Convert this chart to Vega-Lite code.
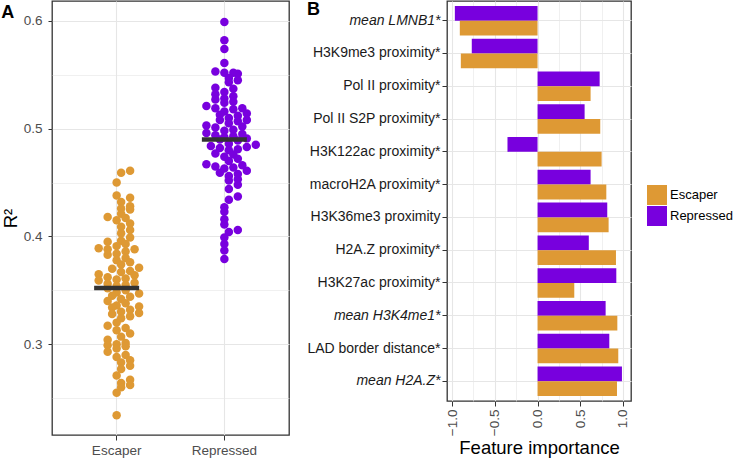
{
  "$schema": "https://vega.github.io/schema/vega-lite/v6.json",
  "padding": {"left": 0, "top": 0, "right": 0, "bottom": 0},
  "background": "white",
  "bounds": "flush",
  "spacing": 158,
  "config": {
    "font": "Liberation Sans",
    "view": {"stroke": "#333333", "strokeWidth": 1.3},
    "axis": {
      "domain": false,
      "gridColor": "#e6e6e6",
      "tickColor": "#333333",
      "tickSize": 5,
      "labelColor": "#4d4d4d",
      "labelFont": "Liberation Sans",
      "titleFont": "Liberation Sans",
      "labelFontSize": 13.5,
      "titleFontSize": 18.5,
      "titleFontWeight": "normal",
      "titleColor": "#000000",
      "labelPadding": 3
    },
    "title": {"font": "Liberation Sans", "fontSize": 18, "fontWeight": "bold", "color": "#000000"}
  },
  "datasets": {
    "swarm": [
      {"group": "Escaper", "R2": 0.461}, {"group": "Escaper", "R2": 0.459}, {"group": "Escaper", "R2": 0.450}, {"group": "Escaper", "R2": 0.438}, {"group": "Escaper", "R2": 0.436},
      {"group": "Escaper", "R2": 0.432}, {"group": "Escaper", "R2": 0.428}, {"group": "Escaper", "R2": 0.426}, {"group": "Escaper", "R2": 0.425}, {"group": "Escaper", "R2": 0.421},
      {"group": "Escaper", "R2": 0.418}, {"group": "Escaper", "R2": 0.417}, {"group": "Escaper", "R2": 0.415}, {"group": "Escaper", "R2": 0.412}, {"group": "Escaper", "R2": 0.409},
      {"group": "Escaper", "R2": 0.406}, {"group": "Escaper", "R2": 0.403}, {"group": "Escaper", "R2": 0.399}, {"group": "Escaper", "R2": 0.396}, {"group": "Escaper", "R2": 0.395},
      {"group": "Escaper", "R2": 0.393}, {"group": "Escaper", "R2": 0.391}, {"group": "Escaper", "R2": 0.389}, {"group": "Escaper", "R2": 0.388}, {"group": "Escaper", "R2": 0.388},
      {"group": "Escaper", "R2": 0.386}, {"group": "Escaper", "R2": 0.384}, {"group": "Escaper", "R2": 0.383}, {"group": "Escaper", "R2": 0.380}, {"group": "Escaper", "R2": 0.378},
      {"group": "Escaper", "R2": 0.376}, {"group": "Escaper", "R2": 0.374}, {"group": "Escaper", "R2": 0.371}, {"group": "Escaper", "R2": 0.370}, {"group": "Escaper", "R2": 0.368},
      {"group": "Escaper", "R2": 0.367}, {"group": "Escaper", "R2": 0.365}, {"group": "Escaper", "R2": 0.364}, {"group": "Escaper", "R2": 0.362}, {"group": "Escaper", "R2": 0.361},
      {"group": "Escaper", "R2": 0.360}, {"group": "Escaper", "R2": 0.359}, {"group": "Escaper", "R2": 0.357}, {"group": "Escaper", "R2": 0.356}, {"group": "Escaper", "R2": 0.355},
      {"group": "Escaper", "R2": 0.354}, {"group": "Escaper", "R2": 0.352}, {"group": "Escaper", "R2": 0.350}, {"group": "Escaper", "R2": 0.348}, {"group": "Escaper", "R2": 0.347},
      {"group": "Escaper", "R2": 0.345}, {"group": "Escaper", "R2": 0.344}, {"group": "Escaper", "R2": 0.342}, {"group": "Escaper", "R2": 0.340}, {"group": "Escaper", "R2": 0.338},
      {"group": "Escaper", "R2": 0.336}, {"group": "Escaper", "R2": 0.335}, {"group": "Escaper", "R2": 0.334}, {"group": "Escaper", "R2": 0.332}, {"group": "Escaper", "R2": 0.330},
      {"group": "Escaper", "R2": 0.329}, {"group": "Escaper", "R2": 0.328}, {"group": "Escaper", "R2": 0.326}, {"group": "Escaper", "R2": 0.324}, {"group": "Escaper", "R2": 0.320},
      {"group": "Escaper", "R2": 0.317}, {"group": "Escaper", "R2": 0.315}, {"group": "Escaper", "R2": 0.313}, {"group": "Escaper", "R2": 0.310}, {"group": "Escaper", "R2": 0.307},
      {"group": "Escaper", "R2": 0.304}, {"group": "Escaper", "R2": 0.301}, {"group": "Escaper", "R2": 0.300}, {"group": "Escaper", "R2": 0.299}, {"group": "Escaper", "R2": 0.298},
      {"group": "Escaper", "R2": 0.296}, {"group": "Escaper", "R2": 0.293}, {"group": "Escaper", "R2": 0.290}, {"group": "Escaper", "R2": 0.288}, {"group": "Escaper", "R2": 0.285},
      {"group": "Escaper", "R2": 0.283}, {"group": "Escaper", "R2": 0.280}, {"group": "Escaper", "R2": 0.277}, {"group": "Escaper", "R2": 0.271}, {"group": "Escaper", "R2": 0.267},
      {"group": "Escaper", "R2": 0.264}, {"group": "Escaper", "R2": 0.262}, {"group": "Escaper", "R2": 0.260}, {"group": "Escaper", "R2": 0.255}, {"group": "Escaper", "R2": 0.234},
      {"group": "Repressed", "R2": 0.599}, {"group": "Repressed", "R2": 0.582}, {"group": "Repressed", "R2": 0.574}, {"group": "Repressed", "R2": 0.561}, {"group": "Repressed", "R2": 0.553},
      {"group": "Repressed", "R2": 0.552}, {"group": "Repressed", "R2": 0.552}, {"group": "Repressed", "R2": 0.551}, {"group": "Repressed", "R2": 0.547}, {"group": "Repressed", "R2": 0.545},
      {"group": "Repressed", "R2": 0.543}, {"group": "Repressed", "R2": 0.538}, {"group": "Repressed", "R2": 0.537}, {"group": "Repressed", "R2": 0.534}, {"group": "Repressed", "R2": 0.532},
      {"group": "Repressed", "R2": 0.530}, {"group": "Repressed", "R2": 0.528}, {"group": "Repressed", "R2": 0.527}, {"group": "Repressed", "R2": 0.525}, {"group": "Repressed", "R2": 0.524},
      {"group": "Repressed", "R2": 0.521}, {"group": "Repressed", "R2": 0.519}, {"group": "Repressed", "R2": 0.519}, {"group": "Repressed", "R2": 0.518}, {"group": "Repressed", "R2": 0.516},
      {"group": "Repressed", "R2": 0.514}, {"group": "Repressed", "R2": 0.513}, {"group": "Repressed", "R2": 0.512}, {"group": "Repressed", "R2": 0.510}, {"group": "Repressed", "R2": 0.508},
      {"group": "Repressed", "R2": 0.508}, {"group": "Repressed", "R2": 0.507}, {"group": "Repressed", "R2": 0.505}, {"group": "Repressed", "R2": 0.503}, {"group": "Repressed", "R2": 0.502},
      {"group": "Repressed", "R2": 0.501}, {"group": "Repressed", "R2": 0.499}, {"group": "Repressed", "R2": 0.498}, {"group": "Repressed", "R2": 0.496}, {"group": "Repressed", "R2": 0.495},
      {"group": "Repressed", "R2": 0.494}, {"group": "Repressed", "R2": 0.493}, {"group": "Repressed", "R2": 0.492}, {"group": "Repressed", "R2": 0.491}, {"group": "Repressed", "R2": 0.490},
      {"group": "Repressed", "R2": 0.489}, {"group": "Repressed", "R2": 0.486}, {"group": "Repressed", "R2": 0.485}, {"group": "Repressed", "R2": 0.484}, {"group": "Repressed", "R2": 0.483},
      {"group": "Repressed", "R2": 0.482}, {"group": "Repressed", "R2": 0.481}, {"group": "Repressed", "R2": 0.480}, {"group": "Repressed", "R2": 0.477}, {"group": "Repressed", "R2": 0.476},
      {"group": "Repressed", "R2": 0.474}, {"group": "Repressed", "R2": 0.472}, {"group": "Repressed", "R2": 0.470}, {"group": "Repressed", "R2": 0.467}, {"group": "Repressed", "R2": 0.466},
      {"group": "Repressed", "R2": 0.465}, {"group": "Repressed", "R2": 0.464}, {"group": "Repressed", "R2": 0.463}, {"group": "Repressed", "R2": 0.461}, {"group": "Repressed", "R2": 0.459},
      {"group": "Repressed", "R2": 0.458}, {"group": "Repressed", "R2": 0.456}, {"group": "Repressed", "R2": 0.453}, {"group": "Repressed", "R2": 0.452}, {"group": "Repressed", "R2": 0.448},
      {"group": "Repressed", "R2": 0.444}, {"group": "Repressed", "R2": 0.437}, {"group": "Repressed", "R2": 0.434}, {"group": "Repressed", "R2": 0.427}, {"group": "Repressed", "R2": 0.423},
      {"group": "Repressed", "R2": 0.416}, {"group": "Repressed", "R2": 0.411}, {"group": "Repressed", "R2": 0.406}, {"group": "Repressed", "R2": 0.404}, {"group": "Repressed", "R2": 0.399},
      {"group": "Repressed", "R2": 0.393}, {"group": "Repressed", "R2": 0.387}, {"group": "Repressed", "R2": 0.379}
    ],
    "imp": [
      {"feature": "mean LMNB1*", "group": "Repressed", "imp": -0.968}, {"feature": "mean LMNB1*", "group": "Escaper", "imp": -0.91},
      {"feature": "H3K9me3 proximity*", "group": "Repressed", "imp": -0.77}, {"feature": "H3K9me3 proximity*", "group": "Escaper", "imp": -0.898},
      {"feature": "Pol II proximity*", "group": "Repressed", "imp": 0.727}, {"feature": "Pol II proximity*", "group": "Escaper", "imp": 0.621},
      {"feature": "Pol II S2P proximity*", "group": "Repressed", "imp": 0.551}, {"feature": "Pol II S2P proximity*", "group": "Escaper", "imp": 0.734},
      {"feature": "H3K122ac proximity*", "group": "Repressed", "imp": -0.352}, {"feature": "H3K122ac proximity*", "group": "Escaper", "imp": 0.75},
      {"feature": "macroH2A proximity*", "group": "Repressed", "imp": 0.621}, {"feature": "macroH2A proximity*", "group": "Escaper", "imp": 0.805},
      {"feature": "H3K36me3 proximity\u00a0", "group": "Repressed", "imp": 0.816}, {"feature": "H3K36me3 proximity\u00a0", "group": "Escaper", "imp": 0.832},
      {"feature": "H2A.Z proximity*", "group": "Repressed", "imp": 0.60}, {"feature": "H2A.Z proximity*", "group": "Escaper", "imp": 0.918},
      {"feature": "H3K27ac proximity*", "group": "Repressed", "imp": 0.922}, {"feature": "H3K27ac proximity*", "group": "Escaper", "imp": 0.43},
      {"feature": "mean H3K4me1*", "group": "Repressed", "imp": 0.797}, {"feature": "mean H3K4me1*", "group": "Escaper", "imp": 0.934},
      {"feature": "LAD border distance*", "group": "Repressed", "imp": 0.84}, {"feature": "LAD border distance*", "group": "Escaper", "imp": 0.945},
      {"feature": "mean H2A.Z*", "group": "Repressed", "imp": 0.988}, {"feature": "mean H2A.Z*", "group": "Escaper", "imp": 0.93}
    ]
  },
  "resolve": {"legend": {"color": "independent"}},
  "hconcat": [
    {
      "width": 237,
      "height": 434,
      "title": {"text": "A", "anchor": "start", "frame": "bounds", "offset": -21},
      "data": {"name": "swarm"},
      "transform": [
        {"bin": {"step": 0.006}, "field": "R2", "as": "b"},
        {"window": [{"op": "row_number", "as": "r"}], "groupby": ["group", "b"], "sort": [{"field": "R2", "order": "ascending"}]},
        {"joinaggregate": [{"op": "count", "as": "n"}], "groupby": ["group", "b"]},
        {"calculate": "(datum.r % 2 == 0 ? 1 : -1) * floor(datum.r / 2) + (datum.n % 2 == 0 ? 0.5 : 0)", "as": "off"}
      ],
      "layer": [
        {
          "mark": {"type": "circle", "size": 72, "opacity": 1},
          "encoding": {
            "x": {"field": "group", "type": "nominal",
                  "scale": {"domain": ["Escaper", "Repressed"], "paddingInner": 0, "paddingOuter": 0.1},
                  "axis": {"title": null, "labelAngle": 0, "grid": true, "bandPosition": 0.5, "gridWidth": 1.1, "labelPadding": 3}},
            "xOffset": {"field": "off", "type": "quantitative", "scale": {"domain": [-6, 6]}},
            "y": {"field": "R2", "type": "quantitative",
                  "scale": {"domain": [0.2157, 0.6185], "nice": false, "zero": false},
                  "axis": {"title": "R²", "titlePadding": 3, "labelPadding": 6, "tickSize": 4,
                           "values": [0.25, 0.3, 0.35, 0.4, 0.45, 0.5, 0.55, 0.6],
                           "labelExpr": "round(datum.value*100) % 10 == 0 ? format(datum.value, '.1f') : ''",
                           "tickOpacity": {"condition": {"test": "round(datum.value*100) % 10 != 0", "value": 0}, "value": 1},
                           "gridWidth": {"condition": {"test": "round(datum.value*100) % 10 != 0", "value": 0.6}, "value": 1.1}}},
            "color": {"field": "group", "type": "nominal",
                      "scale": {"domain": ["Escaper", "Repressed"], "range": ["#DE9934", "#7800DE"]},
                      "legend": null}
          }
        },
        {
          "mark": {"type": "tick", "size": 45, "thickness": 4.5, "color": "#333333"},
          "encoding": {
            "x": {"field": "group", "type": "nominal"},
            "y": {"aggregate": "mean", "field": "R2", "type": "quantitative"}
          }
        }
      ]
    },
    {
      "width": 184,
      "height": 400,
      "title": {"text": "B", "anchor": "start", "frame": "bounds", "offset": -18},
      "data": {"name": "imp"},
      "mark": {"type": "bar"},
      "encoding": {
        "y": {"field": "feature", "type": "nominal",
              "sort": ["mean LMNB1*", "H3K9me3 proximity*", "Pol II proximity*", "Pol II S2P proximity*", "H3K122ac proximity*", "macroH2A proximity*", "H3K36me3 proximity\u00a0", "H2A.Z proximity*", "H3K27ac proximity*", "mean H3K4me1*", "LAD border distance*", "mean H2A.Z*"],
              "scale": {"paddingInner": 0, "paddingOuter": 0.1},
              "axis": {"title": null, "grid": true, "bandPosition": 0.5, "gridWidth": 1.1, "labelColor": "#1a1a1a", "labelFontSize": 14, "labelLimit": 300, "labelPadding": 2,
                       "labelFontStyle": {"condition": {"test": "indexof(datum.value, 'mean') == 0", "value": "italic"}, "value": "normal"}}},
        "yOffset": {"field": "group", "type": "nominal", "scale": {"domain": ["Repressed", "Escaper"], "paddingInner": 0, "paddingOuter": 0.11}},
        "x": {"field": "imp", "type": "quantitative",
              "scale": {"domain": [-1.06, 1.094], "nice": false},
              "axis": {"title": "Feature importance", "titlePadding": 3,
                       "values": [-1, -0.75, -0.5, -0.25, 0, 0.25, 0.5, 0.75, 1],
                       "labelAngle": 270,
                       "labelExpr": "round(datum.value*100) % 50 == 0 ? format(datum.value, '.1f') : ''",
                       "tickOpacity": {"condition": {"test": "round(datum.value*100) % 50 != 0", "value": 0}, "value": 1},
                       "gridWidth": {"condition": {"test": "round(datum.value*100) % 50 != 0", "value": 0.6}, "value": 1.1}}},
        "color": {"field": "group", "type": "nominal",
                  "scale": {"domain": ["Escaper", "Repressed"], "range": ["#DE9934", "#7800DE"]},
                  "legend": {"title": null, "orient": "none", "legendX": 200, "legendY": 184,
                             "symbolType": "square", "symbolSize": 400, "symbolStrokeWidth": 0, "symbolOpacity": 1,
                             "labelFontSize": 13, "labelColor": "#000000", "labelOffset": 3, "rowPadding": 1}}
      }
    }
  ]
}
